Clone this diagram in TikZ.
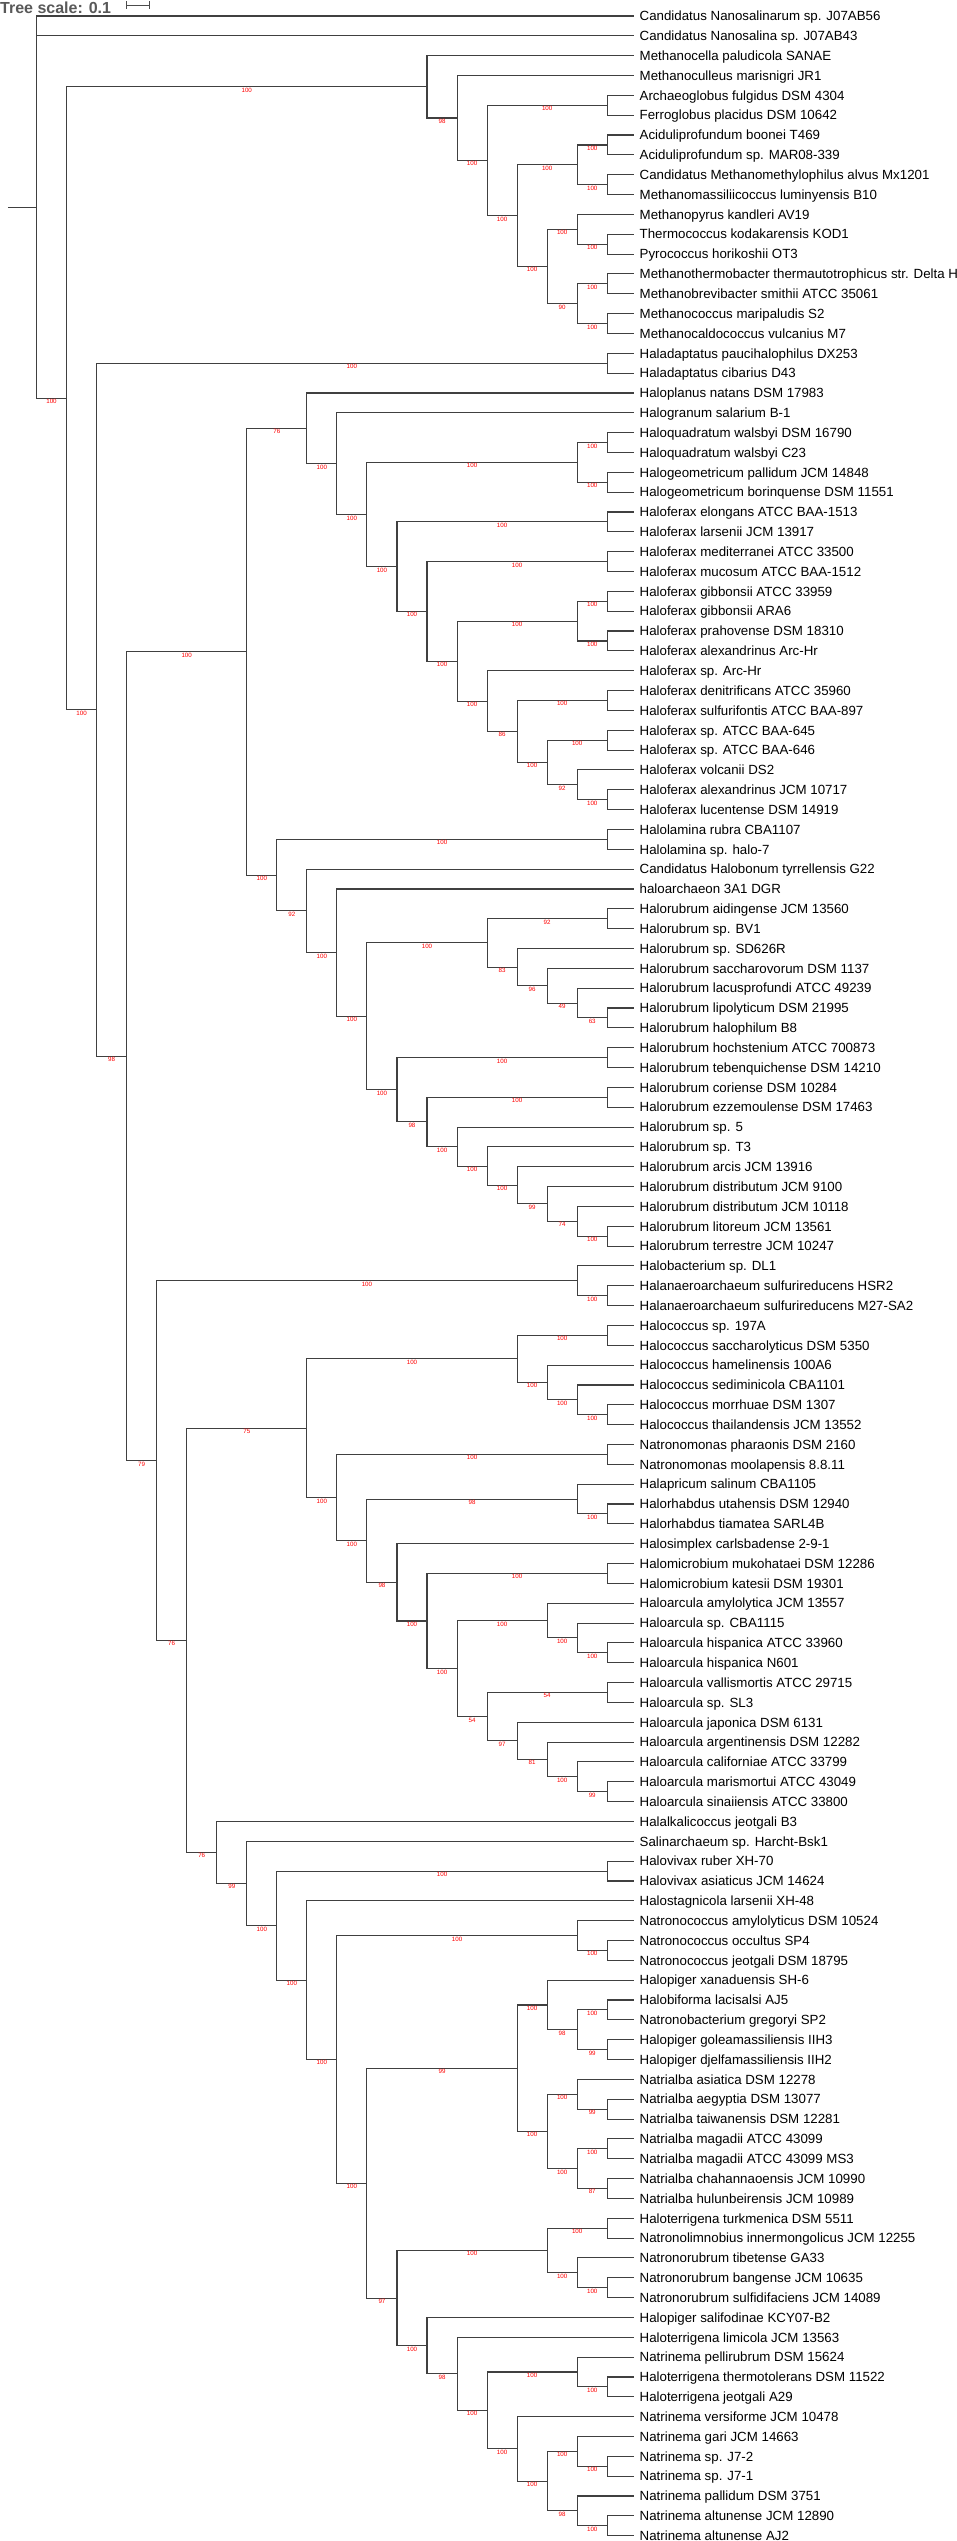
\documentclass[tikz,border=0pt]{standalone}
\usepackage{fontspec}
\setmainfont{Liberation Sans}
\usepackage{xcolor}
\usepackage{tikz}

\tikzset{
  branch/.style={draw=black!75, line width=1.1pt},
  taxon/.style={anchor=west, xshift=-3.3pt, inner xsep=5.5pt, inner ysep=0pt,
    text height=9.5pt, text depth=0pt, font=\fontsize{13.3}{15}\selectfont},
  boot/.style={pos=.75, anchor=north, inner sep=0.6pt, text=red,
    font=\fontsize{6.2}{7}\selectfont},
  scalelabel/.style={inner sep=0pt, text=black!65, font=\bfseries\fontsize{16}{18}\selectfont},
  scalebar/.style={draw=black!70, line width=1pt, |-|},
}

\begin{document}
\begin{tikzpicture}[x=-30.04pt, y=-19.84pt]
    % Page size
    \useasboundingbox (-637.3pt,-3.84pt) rectangle (318.7pt,-2544.84pt);

    % Tree scale
    \node[scalelabel, anchor=base west] (scale) at (-637.3pt,-17.1pt) {Tree scale: 0.1};
    \coordinate (barL) at (-511.3pt,-8.84pt);
    \coordinate (barR) at (-487.3pt,-8.84pt);
    \draw[scalebar] (barL) -- (barR);

    % Taxa
    \node[taxon] (t1) at (0,1) {Candidatus Nanosalinarum sp. J07AB56};
    \node[taxon] (t2) at (0,2) {Candidatus Nanosalina sp. J07AB43};
    \node[taxon] (t3) at (0,3) {Methanocella paludicola SANAE};
    \node[taxon] (t4) at (0,4) {Methanoculleus marisnigri JR1};
    \node[taxon] (t5) at (0,5) {Archaeoglobus fulgidus DSM 4304};
    \node[taxon] (t6) at (0,6) {Ferroglobus placidus DSM 10642};
    \node[taxon] (t7) at (0,7) {Aciduliprofundum boonei T469};
    \node[taxon] (t8) at (0,8) {Aciduliprofundum sp. MAR08-339};
    \node[taxon] (t9) at (0,9) {Candidatus Methanomethylophilus alvus Mx1201};
    \node[taxon] (t10) at (0,10) {Methanomassiliicoccus luminyensis B10};
    \node[taxon] (t11) at (0,11) {Methanopyrus kandleri AV19};
    \node[taxon] (t12) at (0,12) {Thermococcus kodakarensis KOD1};
    \node[taxon] (t13) at (0,13) {Pyrococcus horikoshii OT3};
    \node[taxon] (t14) at (0,14) {Methanothermobacter thermautotrophicus str. Delta H};
    \node[taxon] (t15) at (0,15) {Methanobrevibacter smithii ATCC 35061};
    \node[taxon] (t16) at (0,16) {Methanococcus maripaludis S2};
    \node[taxon] (t17) at (0,17) {Methanocaldococcus vulcanius M7};
    \node[taxon] (t18) at (0,18) {Haladaptatus paucihalophilus DX253};
    \node[taxon] (t19) at (0,19) {Haladaptatus cibarius D43};
    \node[taxon] (t20) at (0,20) {Haloplanus natans DSM 17983};
    \node[taxon] (t21) at (0,21) {Halogranum salarium B-1};
    \node[taxon] (t22) at (0,22) {Haloquadratum walsbyi DSM 16790};
    \node[taxon] (t23) at (0,23) {Haloquadratum walsbyi C23};
    \node[taxon] (t24) at (0,24) {Halogeometricum pallidum JCM 14848};
    \node[taxon] (t25) at (0,25) {Halogeometricum borinquense DSM 11551};
    \node[taxon] (t26) at (0,26) {Haloferax elongans ATCC BAA-1513};
    \node[taxon] (t27) at (0,27) {Haloferax larsenii JCM 13917};
    \node[taxon] (t28) at (0,28) {Haloferax mediterranei ATCC 33500};
    \node[taxon] (t29) at (0,29) {Haloferax mucosum ATCC BAA-1512};
    \node[taxon] (t30) at (0,30) {Haloferax gibbonsii ATCC 33959};
    \node[taxon] (t31) at (0,31) {Haloferax gibbonsii ARA6};
    \node[taxon] (t32) at (0,32) {Haloferax prahovense DSM 18310};
    \node[taxon] (t33) at (0,33) {Haloferax alexandrinus Arc-Hr};
    \node[taxon] (t34) at (0,34) {Haloferax sp. Arc-Hr};
    \node[taxon] (t35) at (0,35) {Haloferax denitrificans ATCC 35960};
    \node[taxon] (t36) at (0,36) {Haloferax sulfurifontis ATCC BAA-897};
    \node[taxon] (t37) at (0,37) {Haloferax sp. ATCC BAA-645};
    \node[taxon] (t38) at (0,38) {Haloferax sp. ATCC BAA-646};
    \node[taxon] (t39) at (0,39) {Haloferax volcanii DS2};
    \node[taxon] (t40) at (0,40) {Haloferax alexandrinus JCM 10717};
    \node[taxon] (t41) at (0,41) {Haloferax lucentense DSM 14919};
    \node[taxon] (t42) at (0,42) {Halolamina rubra CBA1107};
    \node[taxon] (t43) at (0,43) {Halolamina sp. halo-7};
    \node[taxon] (t44) at (0,44) {Candidatus Halobonum tyrrellensis G22};
    \node[taxon] (t45) at (0,45) {haloarchaeon 3A1 DGR};
    \node[taxon] (t46) at (0,46) {Halorubrum aidingense JCM 13560};
    \node[taxon] (t47) at (0,47) {Halorubrum sp. BV1};
    \node[taxon] (t48) at (0,48) {Halorubrum sp. SD626R};
    \node[taxon] (t49) at (0,49) {Halorubrum saccharovorum DSM 1137};
    \node[taxon] (t50) at (0,50) {Halorubrum lacusprofundi ATCC 49239};
    \node[taxon] (t51) at (0,51) {Halorubrum lipolyticum DSM 21995};
    \node[taxon] (t52) at (0,52) {Halorubrum halophilum B8};
    \node[taxon] (t53) at (0,53) {Halorubrum hochstenium ATCC 700873};
    \node[taxon] (t54) at (0,54) {Halorubrum tebenquichense DSM 14210};
    \node[taxon] (t55) at (0,55) {Halorubrum coriense DSM 10284};
    \node[taxon] (t56) at (0,56) {Halorubrum ezzemoulense DSM 17463};
    \node[taxon] (t57) at (0,57) {Halorubrum sp. 5};
    \node[taxon] (t58) at (0,58) {Halorubrum sp. T3};
    \node[taxon] (t59) at (0,59) {Halorubrum arcis JCM 13916};
    \node[taxon] (t60) at (0,60) {Halorubrum distributum JCM 9100};
    \node[taxon] (t61) at (0,61) {Halorubrum distributum JCM 10118};
    \node[taxon] (t62) at (0,62) {Halorubrum litoreum JCM 13561};
    \node[taxon] (t63) at (0,63) {Halorubrum terrestre JCM 10247};
    \node[taxon] (t64) at (0,64) {Halobacterium sp. DL1};
    \node[taxon] (t65) at (0,65) {Halanaeroarchaeum sulfurireducens HSR2};
    \node[taxon] (t66) at (0,66) {Halanaeroarchaeum sulfurireducens M27-SA2};
    \node[taxon] (t67) at (0,67) {Halococcus sp. 197A};
    \node[taxon] (t68) at (0,68) {Halococcus saccharolyticus DSM 5350};
    \node[taxon] (t69) at (0,69) {Halococcus hamelinensis 100A6};
    \node[taxon] (t70) at (0,70) {Halococcus sediminicola CBA1101};
    \node[taxon] (t71) at (0,71) {Halococcus morrhuae DSM 1307};
    \node[taxon] (t72) at (0,72) {Halococcus thailandensis JCM 13552};
    \node[taxon] (t73) at (0,73) {Natronomonas pharaonis DSM 2160};
    \node[taxon] (t74) at (0,74) {Natronomonas moolapensis 8.8.11};
    \node[taxon] (t75) at (0,75) {Halapricum salinum CBA1105};
    \node[taxon] (t76) at (0,76) {Halorhabdus utahensis DSM 12940};
    \node[taxon] (t77) at (0,77) {Halorhabdus tiamatea SARL4B};
    \node[taxon] (t78) at (0,78) {Halosimplex carlsbadense 2-9-1};
    \node[taxon] (t79) at (0,79) {Halomicrobium mukohataei DSM 12286};
    \node[taxon] (t80) at (0,80) {Halomicrobium katesii DSM 19301};
    \node[taxon] (t81) at (0,81) {Haloarcula amylolytica JCM 13557};
    \node[taxon] (t82) at (0,82) {Haloarcula sp. CBA1115};
    \node[taxon] (t83) at (0,83) {Haloarcula hispanica ATCC 33960};
    \node[taxon] (t84) at (0,84) {Haloarcula hispanica N601};
    \node[taxon] (t85) at (0,85) {Haloarcula vallismortis ATCC 29715};
    \node[taxon] (t86) at (0,86) {Haloarcula sp. SL3};
    \node[taxon] (t87) at (0,87) {Haloarcula japonica DSM 6131};
    \node[taxon] (t88) at (0,88) {Haloarcula argentinensis DSM 12282};
    \node[taxon] (t89) at (0,89) {Haloarcula californiae ATCC 33799};
    \node[taxon] (t90) at (0,90) {Haloarcula marismortui ATCC 43049};
    \node[taxon] (t91) at (0,91) {Haloarcula sinaiiensis ATCC 33800};
    \node[taxon] (t92) at (0,92) {Halalkalicoccus jeotgali B3};
    \node[taxon] (t93) at (0,93) {Salinarchaeum sp. Harcht-Bsk1};
    \node[taxon] (t94) at (0,94) {Halovivax ruber XH-70};
    \node[taxon] (t95) at (0,95) {Halovivax asiaticus JCM 14624};
    \node[taxon] (t96) at (0,96) {Halostagnicola larsenii XH-48};
    \node[taxon] (t97) at (0,97) {Natronococcus amylolyticus DSM 10524};
    \node[taxon] (t98) at (0,98) {Natronococcus occultus SP4};
    \node[taxon] (t99) at (0,99) {Natronococcus jeotgali DSM 18795};
    \node[taxon] (t100) at (0,100) {Halopiger xanaduensis SH-6};
    \node[taxon] (t101) at (0,101) {Halobiforma lacisalsi AJ5};
    \node[taxon] (t102) at (0,102) {Natronobacterium gregoryi SP2};
    \node[taxon] (t103) at (0,103) {Halopiger goleamassiliensis IIH3};
    \node[taxon] (t104) at (0,104) {Halopiger djelfamassiliensis IIH2};
    \node[taxon] (t105) at (0,105) {Natrialba asiatica DSM 12278};
    \node[taxon] (t106) at (0,106) {Natrialba aegyptia DSM 13077};
    \node[taxon] (t107) at (0,107) {Natrialba taiwanensis DSM 12281};
    \node[taxon] (t108) at (0,108) {Natrialba magadii ATCC 43099};
    \node[taxon] (t109) at (0,109) {Natrialba magadii ATCC 43099 MS3};
    \node[taxon] (t110) at (0,110) {Natrialba chahannaoensis JCM 10990};
    \node[taxon] (t111) at (0,111) {Natrialba hulunbeirensis JCM 10989};
    \node[taxon] (t112) at (0,112) {Haloterrigena turkmenica DSM 5511};
    \node[taxon] (t113) at (0,113) {Natronolimnobius innermongolicus JCM 12255};
    \node[taxon] (t114) at (0,114) {Natronorubrum tibetense GA33};
    \node[taxon] (t115) at (0,115) {Natronorubrum bangense JCM 10635};
    \node[taxon] (t116) at (0,116) {Natronorubrum sulfidifaciens JCM 14089};
    \node[taxon] (t117) at (0,117) {Halopiger salifodinae KCY07-B2};
    \node[taxon] (t118) at (0,118) {Haloterrigena limicola JCM 13563};
    \node[taxon] (t119) at (0,119) {Natrinema pellirubrum DSM 15624};
    \node[taxon] (t120) at (0,120) {Haloterrigena thermotolerans DSM 11522};
    \node[taxon] (t121) at (0,121) {Haloterrigena jeotgali A29};
    \node[taxon] (t122) at (0,122) {Natrinema versiforme JCM 10478};
    \node[taxon] (t123) at (0,123) {Natrinema gari JCM 14663};
    \node[taxon] (t124) at (0,124) {Natrinema sp. J7-2};
    \node[taxon] (t125) at (0,125) {Natrinema sp. J7-1};
    \node[taxon] (t126) at (0,126) {Natrinema pallidum DSM 3751};
    \node[taxon] (t127) at (0,127) {Natrinema altunense JCM 12890};
    \node[taxon] (t128) at (0,128) {Natrinema altunense AJ2};

    % Cherries (depth, row)
    \coordinate (c5) at (1,5.5);     \coordinate (c7) at (1,7.5);
    \coordinate (c9) at (1,9.5);     \coordinate (c12) at (1,12.5);
    \coordinate (c14) at (1,14.5);   \coordinate (c16) at (1,16.5);
    \coordinate (c18) at (1,18.5);   \coordinate (c22) at (1,22.5);
    \coordinate (c24) at (1,24.5);   \coordinate (c26) at (1,26.5);
    \coordinate (c28) at (1,28.5);   \coordinate (c30) at (1,30.5);
    \coordinate (c32) at (1,32.5);   \coordinate (c35) at (1,35.5);
    \coordinate (c37) at (1,37.5);   \coordinate (c40) at (1,40.5);
    \coordinate (c42) at (1,42.5);   \coordinate (c46) at (1,46.5);
    \coordinate (c51) at (1,51.5);   \coordinate (c53) at (1,53.5);
    \coordinate (c55) at (1,55.5);   \coordinate (c62) at (1,62.5);
    \coordinate (c65) at (1,65.5);   \coordinate (c67) at (1,67.5);
    \coordinate (c71) at (1,71.5);   \coordinate (c73) at (1,73.5);
    \coordinate (c76) at (1,76.5);   \coordinate (c79) at (1,79.5);
    \coordinate (c83) at (1,83.5);   \coordinate (c85) at (1,85.5);
    \coordinate (c90) at (1,90.5);   \coordinate (c94) at (1,94.5);
    \coordinate (c98) at (1,98.5);   \coordinate (c101) at (1,101.5);
    \coordinate (c103) at (1,103.5); \coordinate (c106) at (1,106.5);
    \coordinate (c108) at (1,108.5); \coordinate (c110) at (1,110.5);
    \coordinate (c112) at (1,112.5); \coordinate (c115) at (1,115.5);
    \coordinate (c120) at (1,120.5); \coordinate (c124) at (1,124.5);
    \coordinate (c127) at (1,127.5);

    % Inner clades (depth, row)
    \coordinate (root) at (20,10.633);
    \coordinate (stub) at (20.95,10.633);
    \coordinate (B) at (19,20.267);  \coordinate (D) at (18,35.963);
    \coordinate (T) at (17,53.426);  \coordinate (V) at (16,73.811);
    \coordinate (AY) at (15,82.872); \coordinate (BA) at (14,93.562);
    \coordinate (U) at (13,33.042);  \coordinate (BQ) at (13,95.124);
    \coordinate (X) at (12,44.302);  \coordinate (BR) at (12,97.248);
    \coordinate (W) at (11,21.782);  \coordinate (AJ) at (11,46.105);
    \coordinate (AZ) at (11,72.181); \coordinate (BS) at (11,99.995);
    \coordinate (Y) at (10,23.563);  \coordinate (AK) at (10,48.210);
    \coordinate (BC) at (10,75.675); \coordinate (BT) at (10,103.990);
    \coordinate (Z) at (9,26.127);   \coordinate (AL) at (9,51.420);
    \coordinate (BF) at (9,77.850);  \coordinate (BV) at (9,110.230);
    \coordinate (AB) at (8,28.754);  \coordinate (AN) at (8,55.121);
    \coordinate (BH) at (8,79.949);  \coordinate (BX) at (8,116.023);
    \coordinate (C) at (7,4.570);    \coordinate (AC) at (7,31.008);
    \coordinate (AR) at (7,56.742);  \coordinate (BI) at (7,81.898);
    \coordinate (CE) at (7,118.422);
    \coordinate (E) at (6,6.141);    \coordinate (AD) at (6,33.516);
    \coordinate (AS) at (6,57.984);  \coordinate (BJ) at (6,84.297);
    \coordinate (CG) at (6,119.844);
    \coordinate (F) at (5,8.281);    \coordinate (AF) at (5,35.531);
    \coordinate (AM) at (5,47.719);  \coordinate (AT) at (5,58.969);
    \coordinate (BL) at (5,86.719);  \coordinate (CH) at (5,121.688);
    \coordinate (H) at (4,11.063);   \coordinate (AG) at (4,37.063);
    \coordinate (AO) at (4,48.938);  \coordinate (AU) at (4,59.938);
    \coordinate (BB) at (4,68.688);  \coordinate (BN) at (4,87.938);
    \coordinate (BW) at (4,104.438); \coordinate (CJ) at (4,123.625);
    \coordinate (J) at (3,13.625);   \coordinate (AH) at (3,38.625);
    \coordinate (AP) at (3,49.875);  \coordinate (AV) at (3,60.875);
    \coordinate (BD) at (3,69.875);  \coordinate (BK) at (3,81.875);
    \coordinate (BO) at (3,88.875);  \coordinate (BY) at (3,101.25);
    \coordinate (BZ) at (3,107.625); \coordinate (CD) at (3,113.625);
    \coordinate (CK) at (3,125.25);
    \coordinate (I) at (2,8.5);      \coordinate (M) at (2,11.75);
    \coordinate (N) at (2,15.5);     \coordinate (AA) at (2,23.5);
    \coordinate (AE) at (2,31.5);    \coordinate (AI) at (2,39.75);
    \coordinate (AQ) at (2,50.75);   \coordinate (AW) at (2,61.75);
    \coordinate (AX) at (2,64.75);   \coordinate (BE) at (2,70.75);
    \coordinate (BG) at (2,75.75);   \coordinate (BM) at (2,82.75);
    \coordinate (BP) at (2,89.75);   \coordinate (BU) at (2,97.75);
    \coordinate (CA) at (2,102.5);   \coordinate (CB) at (2,105.75);
    \coordinate (CC) at (2,109.5);   \coordinate (CF) at (2,114.75);
    \coordinate (CI) at (2,119.75);  \coordinate (CL) at (2,123.75);
    \coordinate (CM) at (2,126.75);

    % Root and outgroup
    \draw[branch] (stub) -- (root);
    \draw[branch] (root) |- (t1.west) (root) |- (t2.west);
    \draw[branch] (root) |- (B) node[boot] {100};
    \draw[branch] (B) |- (C) node[boot] {100} (B) |- (D) node[boot] {100};
    \draw[branch] (C) |- (t3.west) (C) |- (E) node[boot] {98};
    \draw[branch] (E) |- (t4.west) (E) |- (F) node[boot] {100};
    \draw[branch] (F) |- (c5) node[boot] {100} (F) |- (H) node[boot] {100};
    \draw[branch] (H) |- (I) node[boot] {100} (H) |- (J) node[boot] {100};
    \draw[branch] (I) |- (c7) node[boot] {100} (I) |- (c9) node[boot] {100};
    \draw[branch] (J) |- (M) node[boot] {100} (J) |- (N) node[boot] {90};
    \draw[branch] (M) |- (t11.west) (M) |- (c12) node[boot] {100};
    \draw[branch] (N) |- (c14) node[boot] {100} (N) |- (c16) node[boot] {100};

    % Haloarchaea
    \draw[branch] (D) |- (c18) node[boot] {100} (D) |- (T) node[boot] {98};
    \draw[branch] (T) |- (U) node[boot] {100} (T) |- (V) node[boot] {79};
    \draw[branch] (U) |- (W) node[boot] {76} (U) |- (X) node[boot] {100};
    \draw[branch] (W) |- (t20.west) (W) |- (Y) node[boot] {100};
    \draw[branch] (Y) |- (t21.west) (Y) |- (Z) node[boot] {100};
    \draw[branch] (Z) |- (AA) node[boot] {100} (Z) |- (AB) node[boot] {100};
    \draw[branch] (AA) |- (c22) node[boot] {100} (AA) |- (c24) node[boot] {100};
    \draw[branch] (AB) |- (c26) node[boot] {100} (AB) |- (AC) node[boot] {100};
    \draw[branch] (AC) |- (c28) node[boot] {100} (AC) |- (AD) node[boot] {100};
    \draw[branch] (AD) |- (AE) node[boot] {100} (AD) |- (AF) node[boot] {100};
    \draw[branch] (AE) |- (c30) node[boot] {100} (AE) |- (c32) node[boot] {100};
    \draw[branch] (AF) |- (t34.west) (AF) |- (AG) node[boot] {86};
    \draw[branch] (AG) |- (c35) node[boot] {100} (AG) |- (AH) node[boot] {100};
    \draw[branch] (AH) |- (c37) node[boot] {100} (AH) |- (AI) node[boot] {92};
    \draw[branch] (AI) |- (t39.west) (AI) |- (c40) node[boot] {100};
    \draw[branch] (X) |- (c42) node[boot] {100} (X) |- (AJ) node[boot] {92};
    \draw[branch] (AJ) |- (t44.west) (AJ) |- (AK) node[boot] {100};
    \draw[branch] (AK) |- (t45.west) (AK) |- (AL) node[boot] {100};
    \draw[branch] (AL) |- (AM) node[boot] {100} (AL) |- (AN) node[boot] {100};
    \draw[branch] (AM) |- (c46) node[boot] {92} (AM) |- (AO) node[boot] {83};
    \draw[branch] (AO) |- (t48.west) (AO) |- (AP) node[boot] {96};
    \draw[branch] (AP) |- (t49.west) (AP) |- (AQ) node[boot] {49};
    \draw[branch] (AQ) |- (t50.west) (AQ) |- (c51) node[boot] {63};
    \draw[branch] (AN) |- (c53) node[boot] {100} (AN) |- (AR) node[boot] {98};
    \draw[branch] (AR) |- (c55) node[boot] {100} (AR) |- (AS) node[boot] {100};
    \draw[branch] (AS) |- (t57.west) (AS) |- (AT) node[boot] {100};
    \draw[branch] (AT) |- (t58.west) (AT) |- (AU) node[boot] {100};
    \draw[branch] (AU) |- (t59.west) (AU) |- (AV) node[boot] {99};
    \draw[branch] (AV) |- (t60.west) (AV) |- (AW) node[boot] {74};
    \draw[branch] (AW) |- (t61.west) (AW) |- (c62) node[boot] {100};
    \draw[branch] (V) |- (AX) node[boot] {100} (V) |- (AY) node[boot] {76};
    \draw[branch] (AX) |- (t64.west) (AX) |- (c65) node[boot] {100};
    \draw[branch] (AY) |- (AZ) node[boot] {75} (AY) |- (BA) node[boot] {76};
    \draw[branch] (AZ) |- (BB) node[boot] {100} (AZ) |- (BC) node[boot] {100};
    \draw[branch] (BB) |- (c67) node[boot] {100} (BB) |- (BD) node[boot] {100};
    \draw[branch] (BD) |- (t69.west) (BD) |- (BE) node[boot] {100};
    \draw[branch] (BE) |- (t70.west) (BE) |- (c71) node[boot] {100};
    \draw[branch] (BC) |- (c73) node[boot] {100} (BC) |- (BF) node[boot] {100};
    \draw[branch] (BF) |- (BG) node[boot] {98} (BF) |- (BH) node[boot] {98};
    \draw[branch] (BG) |- (t75.west) (BG) |- (c76) node[boot] {100};
    \draw[branch] (BH) |- (t78.west) (BH) |- (BI) node[boot] {100};
    \draw[branch] (BI) |- (c79) node[boot] {100} (BI) |- (BJ) node[boot] {100};
    \draw[branch] (BJ) |- (BK) node[boot] {100} (BJ) |- (BL) node[boot] {54};
    \draw[branch] (BK) |- (t81.west) (BK) |- (BM) node[boot] {100};
    \draw[branch] (BM) |- (t82.west) (BM) |- (c83) node[boot] {100};
    \draw[branch] (BL) |- (c85) node[boot] {54} (BL) |- (BN) node[boot] {97};
    \draw[branch] (BN) |- (t87.west) (BN) |- (BO) node[boot] {81};
    \draw[branch] (BO) |- (t88.west) (BO) |- (BP) node[boot] {100};
    \draw[branch] (BP) |- (t89.west) (BP) |- (c90) node[boot] {99};
    \draw[branch] (BA) |- (t92.west) (BA) |- (BQ) node[boot] {99};
    \draw[branch] (BQ) |- (t93.west) (BQ) |- (BR) node[boot] {100};
    \draw[branch] (BR) |- (c94) node[boot] {100} (BR) |- (BS) node[boot] {100};
    \draw[branch] (BS) |- (t96.west) (BS) |- (BT) node[boot] {100};
    \draw[branch] (BT) |- (BU) node[boot] {100} (BT) |- (BV) node[boot] {100};
    \draw[branch] (BU) |- (t97.west) (BU) |- (c98) node[boot] {100};
    \draw[branch] (BV) |- (BW) node[boot] {99} (BV) |- (BX) node[boot] {97};
    \draw[branch] (BW) |- (BY) node[boot] {100} (BW) |- (BZ) node[boot] {100};
    \draw[branch] (BY) |- (t100.west) (BY) |- (CA) node[boot] {98};
    \draw[branch] (CA) |- (c101) node[boot] {100} (CA) |- (c103) node[boot] {99};
    \draw[branch] (BZ) |- (CB) node[boot] {100} (BZ) |- (CC) node[boot] {100};
    \draw[branch] (CB) |- (t105.west) (CB) |- (c106) node[boot] {99};
    \draw[branch] (CC) |- (c108) node[boot] {100} (CC) |- (c110) node[boot] {87};
    \draw[branch] (BX) |- (CD) node[boot] {100} (BX) |- (CE) node[boot] {100};
    \draw[branch] (CD) |- (c112) node[boot] {100} (CD) |- (CF) node[boot] {100};
    \draw[branch] (CF) |- (t114.west) (CF) |- (c115) node[boot] {100};
    \draw[branch] (CE) |- (t117.west) (CE) |- (CG) node[boot] {98};
    \draw[branch] (CG) |- (t118.west) (CG) |- (CH) node[boot] {100};
    \draw[branch] (CH) |- (CI) node[boot] {100} (CH) |- (CJ) node[boot] {100};
    \draw[branch] (CI) |- (t119.west) (CI) |- (c120) node[boot] {100};
    \draw[branch] (CJ) |- (t122.west) (CJ) |- (CK) node[boot] {100};
    \draw[branch] (CK) |- (CL) node[boot] {100} (CK) |- (CM) node[boot] {98};
    \draw[branch] (CL) |- (t123.west) (CL) |- (c124) node[boot] {100};
    \draw[branch] (CM) |- (t126.west) (CM) |- (c127) node[boot] {100};

    % Cherries to taxa
    \foreach \c/\a/\b in {5/5/6, 7/7/8, 9/9/10, 12/12/13, 14/14/15, 16/16/17,
        18/18/19, 22/22/23, 24/24/25, 26/26/27, 28/28/29, 30/30/31, 32/32/33,
        35/35/36, 37/37/38, 40/40/41, 42/42/43, 46/46/47, 51/51/52, 53/53/54,
        55/55/56, 62/62/63, 65/65/66, 67/67/68, 71/71/72, 73/73/74, 76/76/77,
        79/79/80, 83/83/84, 85/85/86, 90/90/91, 94/94/95, 98/98/99,
        101/101/102, 103/103/104, 106/106/107, 108/108/109, 110/110/111,
        112/112/113, 115/115/116, 120/120/121, 124/124/125, 127/127/128}
      \draw[branch] (c\c) |- (t\a.west) (c\c) |- (t\b.west);
\end{tikzpicture}
\end{document}
